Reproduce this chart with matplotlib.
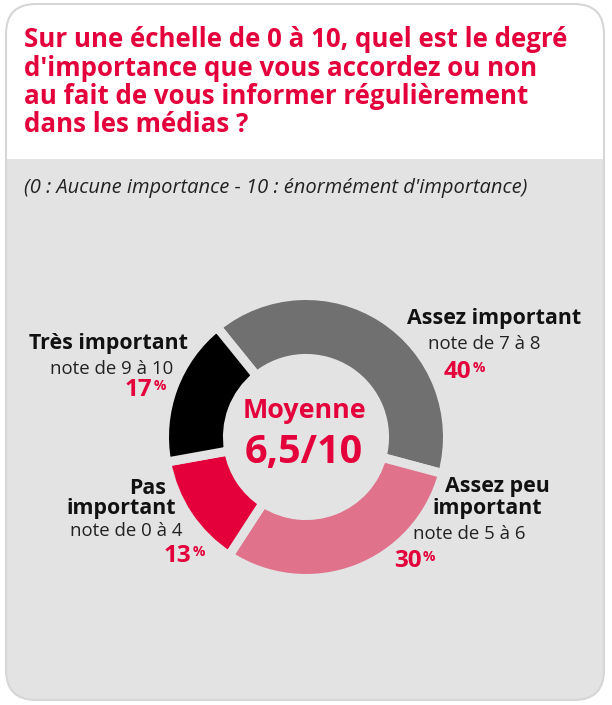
import matplotlib
matplotlib.use("Agg")
import matplotlib.pyplot as plt
from matplotlib.patches import FancyBboxPatch, Rectangle

# data
title_lines = [
    "Sur une échelle de 0 à 10, quel est le degré",
    "d'importance que vous accordez ou non",
    "au fait de vous informer régulièrement",
    "dans les médias ?",
]
subtitle = "(0 : Aucune importance - 10 : énormément d'importance)"
categories = ["Assez important", "Assez peu\nimportant", "Pas\nimportant", "Très important"]
notes = ["note de 7 à 8", "note de 5 à 6", "note de 0 à 4", "note de 9 à 10"]
shares = [40, 30, 13, 17]
center_label = "Moyenne"
moyenne = "6,5/10"

colors = ["#707070", "#e0728c", "#e4003a", "#000000"]
RED = "#e4003a"
BG = "#e3e3e3"
FONT = "Open Sans"

W, H = 612, 705
fig = plt.figure(figsize=(W / 100, H / 100), dpi=100)
fig.patch.set_facecolor("white")

# back axes: panel
bg = fig.add_axes([0, 0, 1, 1], zorder=0)
bg.set_xlim(0, W)
bg.set_ylim(H, 0)
bg.axis("off")
bg.add_patch(FancyBboxPatch((6, 4), 598, 696, boxstyle="round,pad=0,rounding_size=30",
                            fc=BG, ec="none", zorder=0))
bg.add_patch(FancyBboxPatch((6, 4), 598, 200, boxstyle="round,pad=0,rounding_size=30",
                            fc="white", ec="none", zorder=1))
bg.add_patch(Rectangle((6, 159), 598, 60, fc=BG, ec="none", zorder=2))
bg.add_patch(FancyBboxPatch((6, 4), 598, 696, boxstyle="round,pad=0,rounding_size=30",
                            fc="none", ec="#d6d6d6", lw=1.5, zorder=3))

# donut
cx, cy, r = 306, 437, 141.5
ax2 = fig.add_axes([(cx - r) / W, 1 - (cy + r) / H, 2 * r / W, 2 * r / H], zorder=1)
ax2.pie(shares, colors=colors, startangle=129, counterclock=False, radius=1,
        wedgeprops=dict(width=0.445, edgecolor=BG, linewidth=6.5))
ax2.set_xlim(-1, 1)
ax2.set_ylim(-1, 1)
ax2.axis("off")

# front axes: all texts
ax = fig.add_axes([0, 0, 1, 1], zorder=2)
ax.set_xlim(0, W)
ax.set_ylim(H, 0)
ax.axis("off")

for i, line in enumerate(title_lines):
    ax.text(24, 47 + i * 28.5, line, fontsize=18.6, fontweight="bold", color=RED,
            family=FONT, va="baseline", ha="left")
ax.text(24, 193, subtitle, fontsize=14.5, style="italic", color="#222222",
        family=FONT, va="baseline", ha="left")

ax.text(cx - 2, 418, center_label, fontsize=19.4, fontweight="bold", color=RED,
        family=FONT, ha="center", va="baseline")
ax.text(cx - 2, 463, moyenne, fontsize=28.5, fontweight="bold", color=RED,
        family=FONT, ha="center", va="baseline")

# labels: (name lines [(x, y)], note (x, y), pct (x_left, y), ha)
layout = [
    ([(407, 324)], (428, 349), (444, 378), "left"),
    ([(445, 492), (433, 514)], (413, 539), (394, 567), "left"),
    ([(166, 494), (176, 514)], (183, 536), (164, 562), "right"),
    ([(188, 349)], (173, 374), (125, 396), "right"),
]
for cat, note, share, (name_pos, note_pos, pct_pos, ha) in zip(categories, notes, shares, layout):
    for line, (x, y) in zip(cat.split("\n"), name_pos):
        ax.text(x, y, line, fontsize=15.4, fontweight="bold", color="#111111",
                family=FONT, ha=ha, va="baseline")
    ax.text(note_pos[0], note_pos[1], note, fontsize=13.4, color="#222222",
            family=FONT, ha=ha, va="baseline")
    num = ax.text(pct_pos[0], pct_pos[1], str(share), fontsize=17.5, fontweight="bold",
                  color=RED, family=FONT, ha="left", va="baseline")
    ax.annotate("%", xy=(1, 1), xycoords=num, xytext=(0.5, -1), textcoords="offset points",
                fontsize=10, fontweight="bold", color=RED, family=FONT, ha="left", va="top")

fig.savefig("out.png", dpi=100, facecolor="white")
